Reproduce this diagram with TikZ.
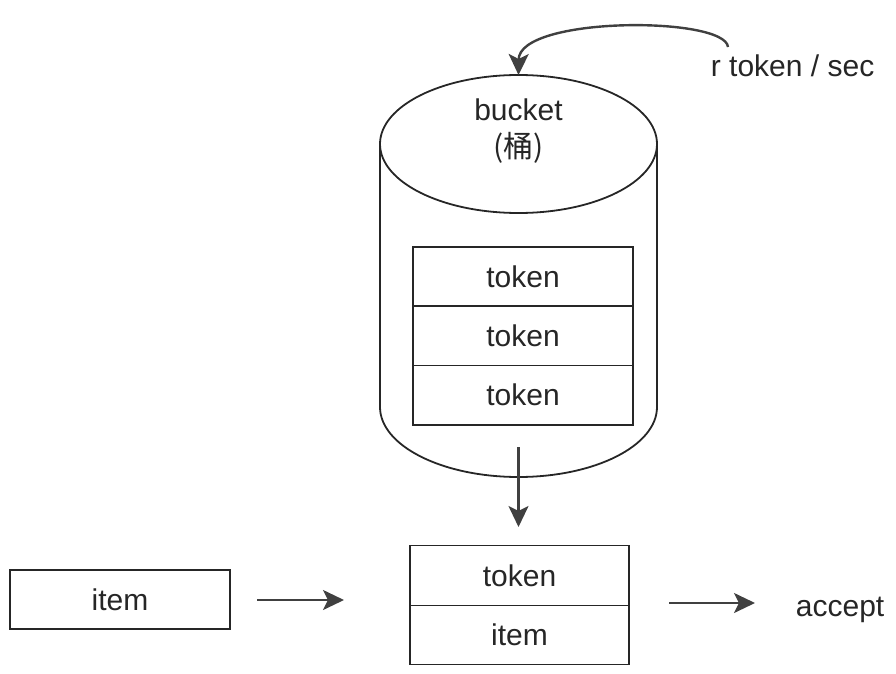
\documentclass[tikz,border=0pt]{standalone}
\usepackage{fontspec}
\setmainfont{Liberation Sans}
\newfontfamily\cjk{Noto Sans CJK SC}
\usetikzlibrary{arrows.meta}
\begin{document}
\begin{tikzpicture}[x=1pt,y=-1pt,
  line width=1.8pt, draw=black!85,
  txt/.style={font=\fontsize{30}{34}\selectfont, text=black!85, inner sep=0pt},
  cell/.style={draw=black!85, line width=1.8pt, minimum width=220pt, inner sep=0pt, outer sep=0pt, txt},
  arr/.style={draw=black!75, line width=2.4pt, -{Stealth[length=21pt,width=20pt,inset=5pt]}}]
\useasboundingbox (0,0) rectangle (896,674);
% cylinder
\draw (380,144) -- (380,407) arc[start angle=180,end angle=360,x radius=138.5,y radius=-70] -- (657,144);
\draw (518.5,144) ellipse[x radius=138.5,y radius=69];
\coordinate (bucketTop) at (518.5,75);
\coordinate (bucketOut) at (518.5,447);
\node[txt, anchor=base] (bucketlbl) at (518.5,121) {bucket};
\node[txt, font=\cjk\fontsize{30}{34}\selectfont] (bucketcjk) at (518.5,148) {(桶)};
% token stack
\node[cell, minimum height=59.3pt] (t1) at (523,276.5) {token};
\node[cell, minimum height=59.3pt, anchor=north] (t2) at (t1.south) {token};
\node[cell, minimum height=59.3pt, anchor=north] (t3) at (t2.south) {token};
% rate label
\node[txt, anchor=base west] (rate) at (710,77) {r token / sec};
\coordinate (rateSrc) at (728,47);
\draw[arr] (rateSrc) .. controls (725,16) and (519,16) .. (bucketTop);
% pair box
\node[cell, minimum width=219pt, minimum height=60pt] (ptok) at (519.5,575.5) {token};
\node[cell, minimum width=219pt, minimum height=59pt, anchor=north] (pitem) at (ptok.south) {item};
\coordinate (pairIn) at (518.5,527);
\draw[arr] (bucketOut) -- (pairIn);
% item box
\node[cell, minimum width=220pt, minimum height=59pt] (item) at (120,599.5) {item};
\coordinate (a1) at (257,600);
\coordinate (a2) at (344,600);
\draw[arr] (a1) -- (a2);
% accept
\coordinate (b1) at (669,603);
\coordinate (b2) at (755,603);
\draw[arr] (b1) -- (b2);
\node[txt, anchor=base west] (accept) at (795,616) {accept};
\end{tikzpicture}
\end{document}
